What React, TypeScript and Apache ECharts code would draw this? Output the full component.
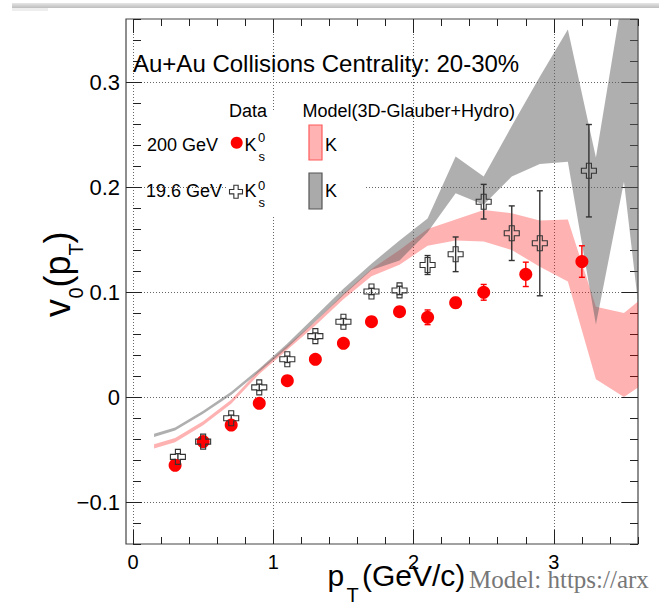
import React, { useEffect, useRef } from 'react';
import * as echarts from 'echarts';

const FONT = "'Liberation Sans', Arial, Helvetica, sans-serif";
const SERIF = "'Liberation Serif', 'Times New Roman', serif";

// ---- data ----
const pt200 = [0.3, 0.5, 0.7, 0.9, 1.1, 1.3, 1.5, 1.7, 1.9, 2.1, 2.3, 2.5, 2.8, 3.2];
const v0_200 = [-0.065, -0.0425, -0.0267, -0.006, 0.0155, 0.0359, 0.0511, 0.0717, 0.0813, 0.0759, 0.0898, 0.0997, 0.1168, 0.129];
const err200 = [0.002, 0.002, 0.002, 0.002, 0.002, 0.002, 0.002, 0.003, 0.003, 0.007, 0.005, 0.0075, 0.0116, 0.015];

const pt19 = [0.32, 0.5, 0.7, 0.9, 1.1, 1.3, 1.5, 1.7, 1.9, 2.1, 2.3, 2.5, 2.7, 2.9, 3.25];
const v0_19 = [-0.057, -0.0425, -0.0203, 0.0092, 0.0359, 0.058, 0.0717, 0.1005, 0.1015, 0.1257, 0.1359, 0.186, 0.156, 0.1464, 0.2155];
const err19 = [0.003, 0.003, 0.003, 0.003, 0.003, 0.003, 0.003, 0.003, 0.004, 0.009, 0.0165, 0.0165, 0.026, 0.05, 0.044];

const modelPt = [0.15, 0.3, 0.5, 0.7, 0.9, 1.1, 1.3, 1.5, 1.7, 1.9, 2.1, 2.3, 2.5, 2.7, 2.9, 3.1, 3.3, 3.5, 3.6];
const model200Lo = [-0.049, -0.043, -0.027, -0.0065, 0.022, 0.045, 0.068, 0.093, 0.115, 0.126, 0.144, 0.149, 0.148, 0.14, 0.124, 0.11, 0.017, 0.0, 0.009];
const model200Hi = [-0.045, -0.039, -0.023, -0.0025, 0.026, 0.049, 0.072, 0.098, 0.122, 0.14, 0.16, 0.169, 0.178, 0.175, 0.168, 0.169, 0.086, 0.08, 0.091];
const model19Lo = [-0.038, -0.032, -0.016, 0.002, 0.024, 0.047, 0.072, 0.097, 0.121, 0.13, 0.157, 0.194, 0.183, 0.21, 0.222, 0.224, 0.069, 0.205, 0.09];
const model19Hi = [-0.035, -0.029, -0.013, 0.005, 0.027, 0.051, 0.077, 0.103, 0.127, 0.149, 0.17, 0.229, 0.21, 0.258, 0.305, 0.35, 0.228, 0.39, 0.43];

const xMajorTicks = [0, 1, 2, 3];
const yMajorTicks = [-0.1, 0, 0.1, 0.2, 0.3];

// ---- layout ----
const L = 126, T = 19, W = 512, H = 525;
const XMIN = -0.05, XMAX = 3.6, YMIN = -0.14, YMAX = 0.36;
const PX = W / (XMAX - XMIN);
const PY = H / (YMAX - YMIN);
const X0 = L + (0 - XMIN) * PX;

const CROSS = 'path://M1,0H2V1H3V2H2V3H1V2H0V1H1Z';

const txt = (text: string, x: number, baseline: number, size: number, opts: any = {}) => {
  const k = opts.serif ? 0.34 : 0.3465;
  return {
    type: 'text',
    x,
    y: baseline - k * size,
    z: 30,
    style: {
      text,
      fontSize: size,
      fontFamily: opts.serif ? SERIF : FONT,
      fill: opts.color || '#000',
      align: opts.align || 'left',
      textAlign: opts.align || 'left',
      verticalAlign: 'middle',
      textVerticalAlign: 'middle',
    },
  };
};

const crossPts = (cx: number, cy: number, s: number) => {
  const h = s / 2, a = s / 6;
  return [
    [cx - a, cy - h], [cx + a, cy - h], [cx + a, cy - a], [cx + h, cy - a], [cx + h, cy + a], [cx + a, cy + a],
    [cx + a, cy + h], [cx - a, cy + h], [cx - a, cy + a], [cx - h, cy + a], [cx - h, cy - a], [cx - a, cy - a],
  ];
};

const bandSeries = (name: string, lo: number[], hi: number[], color: string) => ({
  name, type: 'custom', xAxisIndex: 0, yAxisIndex: 0, z: 2, silent: true, clip: true,
  data: modelPt.map((x, i) => [x, lo[i], hi[i]]),
  encode: { x: 0, y: [1, 2] },
  renderItem: (params: any, api: any) => {
    if (params.dataIndex !== 0) return null;
    const pts: number[][] = [];
    for (let i = 0; i < modelPt.length; i++) pts.push(api.coord([modelPt[i], hi[i]]));
    for (let i = modelPt.length - 1; i >= 0; i--) pts.push(api.coord([modelPt[i], lo[i]]));
    return { type: 'polygon', shape: { points: pts }, style: { fill: color } };
  },
});

const errSeries = (xs: number[], ys: number[], es: number[], color: string) => ({
  type: 'custom', xAxisIndex: 0, yAxisIndex: 0, z: 3, silent: true, clip: true,
  data: xs.map((x, i) => [x, ys[i] - es[i], ys[i] + es[i]]),
  encode: { x: 0, y: [1, 2] },
  renderItem: (params: any, api: any) => {
    const x = api.value(0), lo = api.value(1), hi = api.value(2);
    const p1 = api.coord([x, lo]);
    const p2 = api.coord([x, hi]);
    const cap = 3;
    const st = { stroke: color, lineWidth: 1.4 };
    return {
      type: 'group',
      children: [
        { type: 'line', shape: { x1: p1[0], y1: p1[1], x2: p2[0], y2: p2[1] }, style: st },
        { type: 'line', shape: { x1: p1[0] - cap, y1: p1[1], x2: p1[0] + cap, y2: p1[1] }, style: st },
        { type: 'line', shape: { x1: p2[0] - cap, y1: p2[1], x2: p2[0] + cap, y2: p2[1] }, style: st },
      ],
    };
  },
});

const fmtY = (v: number) => {
  const r = parseFloat(v.toFixed(1));
  return r < 0 ? '\u2212' + String(Math.abs(r)) : String(r);
};

const tickStyle = { color: '#222', width: 1 };
const dotted = { show: true, lineStyle: { type: [1, 2], color: '#666', width: 1 } };

const option: any = {
  animation: false,
  backgroundColor: '#fff',
  grid: [
    { left: L, top: T, width: W, height: H, show: true, borderColor: '#444', borderWidth: 1.2, backgroundColor: '#fff', outerBoundsMode: 'none' },
    { left: X0, top: T, width: 3.6 * PX, height: H, outerBoundsMode: 'none' },
    { left: X0, top: T, width: 3 * PX, height: H, outerBoundsMode: 'none' },
    { left: L, top: T + (YMAX - 0.3) * PY, width: W, height: 0.4 * PY, outerBoundsMode: 'none' },
  ],
  xAxis: [
    { gridIndex: 0, type: 'value', min: XMIN, max: XMAX, show: false },
    {
      gridIndex: 1, type: 'value', min: 0, max: 3.6, interval: 0.2, position: 'bottom',
      axisLine: { show: false }, axisTick: { inside: true, length: 7, lineStyle: tickStyle }, axisLabel: { show: false }, splitLine: { show: false },
    },
    {
      gridIndex: 1, type: 'value', min: 0, max: 3.6, interval: 0.2, position: 'top',
      axisLine: { show: false }, axisTick: { inside: true, length: 7, lineStyle: tickStyle }, axisLabel: { show: false }, splitLine: { show: false },
    },
    {
      gridIndex: 2, type: 'value', min: xMajorTicks[0], max: xMajorTicks[xMajorTicks.length - 1], interval: 1, position: 'bottom',
      axisLine: { show: false }, axisTick: { inside: true, length: 14, lineStyle: tickStyle },
      axisLabel: { show: true, fontSize: 20, fontFamily: FONT, color: '#000', margin: 8 },
      splitLine: dotted,
    },
    {
      gridIndex: 2, type: 'value', min: 0, max: 3, interval: 1, position: 'top',
      axisLine: { show: false }, axisTick: { inside: true, length: 14, lineStyle: tickStyle }, axisLabel: { show: false }, splitLine: { show: false },
    },
    { gridIndex: 3, type: 'value', min: 0, max: 1, show: false },
  ],
  yAxis: [
    {
      gridIndex: 0, type: 'value', min: YMIN, max: YMAX, interval: 0.02, position: 'left',
      axisLine: { show: false }, axisTick: { inside: true, length: 8, lineStyle: tickStyle }, axisLabel: { show: false }, splitLine: { show: false },
    },
    {
      gridIndex: 0, type: 'value', min: YMIN, max: YMAX, interval: 0.02, position: 'right',
      axisLine: { show: false }, axisTick: { inside: true, length: 8, lineStyle: tickStyle }, axisLabel: { show: false }, splitLine: { show: false },
    },
    { gridIndex: 1, type: 'value', min: 0, max: 1, show: false },
    { gridIndex: 2, type: 'value', min: 0, max: 1, show: false },
    {
      gridIndex: 3, type: 'value', min: yMajorTicks[0], max: yMajorTicks[yMajorTicks.length - 1], interval: 0.1, position: 'left',
      axisLine: { show: false }, axisTick: { inside: true, length: 16, lineStyle: tickStyle },
      axisLabel: { show: true, fontSize: 22, fontFamily: FONT, color: '#000', margin: 6, formatter: fmtY },
      splitLine: dotted,
    },
    {
      gridIndex: 3, type: 'value', min: -0.1, max: 0.3, interval: 0.1, position: 'right',
      axisLine: { show: false }, axisTick: { inside: true, length: 16, lineStyle: tickStyle }, axisLabel: { show: false }, splitLine: { show: false },
    },
  ],
  series: [
    bandSeries('Model 200 GeV K', model200Lo, model200Hi, 'rgba(255,0,0,0.3)'),
    bandSeries('Model 19.6 GeV K', model19Lo, model19Hi, 'rgba(96,96,96,0.5)'),
    errSeries(pt200, v0_200, err200, '#ff0000'),
    errSeries(pt19, v0_19, err19, '#333333'),
    {
      name: '200 GeV', type: 'scatter', xAxisIndex: 0, yAxisIndex: 0, z: 4, silent: true,
      data: pt200.map((x, i) => [x, v0_200[i]]),
      symbol: 'circle', symbolSize: 13, itemStyle: { color: '#ff0000', opacity: 1 },
    },
    {
      name: '19.6 GeV', type: 'scatter', xAxisIndex: 0, yAxisIndex: 0, z: 5, silent: true,
      data: pt19.map((x, i) => [x, v0_19[i]]),
      symbol: CROSS, symbolSize: 15,
      itemStyle: { color: 'rgba(0,0,0,0)', borderColor: '#333', borderWidth: 1.1, opacity: 1 },
    },
  ],
  graphic: [
    // screenshot top bar
    {
      type: 'rect', z: 1, shape: { x: 12, y: 3, width: 647, height: 5 },
      style: { fill: new echarts.graphic.LinearGradient(0, 0, 0, 1, [{ offset: 0, color: '#e6e6e6' }, { offset: 1, color: '#bdbdbd' }]) },
    },
    { type: 'rect', z: 1, shape: { x: 12, y: 8, width: 36, height: 3 }, style: { fill: '#eeeeee' } },
    // legend background
    { type: 'rect', z: 10, shape: { x: 226, y: 110, width: 139, height: 107 }, style: { fill: '#fff' } },
    txt('Au+Au Collisions Centrality: 20-30%', 133, 71.5, 24),
    txt('Data', 267, 117, 18, { align: 'right' }),
    txt('Model(3D-Glauber+Hydro)', 302.5, 117, 18),
    txt('200 GeV', 218, 151, 18, { align: 'right' }),
    { type: 'circle', z: 30, shape: { cx: 236.7, cy: 142.7, r: 6 }, style: { fill: '#ff0000' } },
    txt('K', 244.5, 151, 18),
    txt('0', 258, 141.7, 13),
    txt('s', 258.5, 161.5, 13),
    { type: 'rect', z: 30, shape: { x: 309, y: 125, width: 13, height: 35 }, style: { fill: '#ffb3b3', stroke: '#ff5a5a', lineWidth: 1.2 } },
    txt('K', 325, 151, 18),
    txt('19.6 GeV', 222, 197, 18, { align: 'right' }),
    { type: 'polygon', z: 30, shape: { points: crossPts(236, 191.7, 13) }, style: { fill: '#fff', stroke: '#333', lineWidth: 1.1 } },
    txt('K', 244.5, 197, 18),
    txt('0', 258, 190, 13),
    txt('s', 258.5, 207, 13),
    { type: 'rect', z: 30, shape: { x: 309, y: 173, width: 13, height: 36 }, style: { fill: '#aaaaaa', stroke: '#555', lineWidth: 1.2 } },
    txt('K', 325, 197, 18),
    // x axis title
    txt('p', 327.5, 586, 30),
    txt('T', 346.5, 602, 20),
    txt('(GeV/c)', 362, 586, 30),
    // y axis title (rotated)
    {
      type: 'group', x: 70, y: 317, rotation: Math.PI / 2, z: 30,
      children: [
        txt('v', 0, 0, 36),
        txt('0', 18.5, 13, 20),
        txt('(p', 29.5, 0, 36),
        txt('T', 61.5, 13, 20),
        txt(')', 73.5, 0, 36),
      ],
    },
    // bottom right caption
    txt('Model: https://arx', 469, 588, 25, { serif: true, color: '#777' }),
  ],
};

export default function App() {
  const ref = useRef<HTMLDivElement>(null);
  useEffect(() => {
    if (!ref.current) return;
    const chart = echarts.init(ref.current, null, { renderer: 'svg', width: 659, height: 607 });
    chart.setOption(option);
    return () => chart.dispose();
  }, []);
  return (
    <div
      ref={ref}
      style={{ position: 'absolute', left: 0, top: 0, width: 659, height: 607, background: '#fff' }}
    />
  );
}
